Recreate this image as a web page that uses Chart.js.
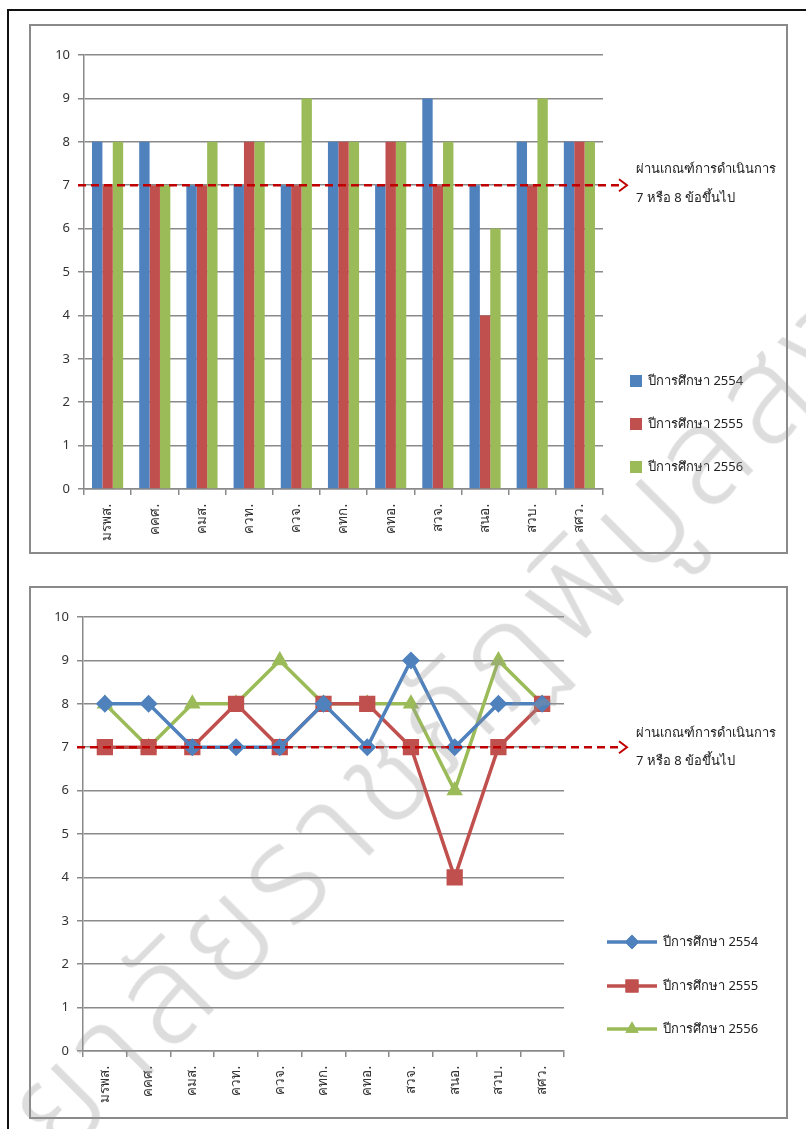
<!DOCTYPE html>
<html><head><meta charset="utf-8">
<script src="https://cdn.jsdelivr.net/npm/chart.js@4.4.1/dist/chart.umd.min.js"></script>
<style>
html,body{margin:0;padding:0;background:#fff;overflow:hidden;width:806px;height:1129px;}
#outer{position:absolute;left:7px;top:9px;width:840px;height:1160px;border:2px solid #111;box-sizing:border-box;}
.box{position:absolute;left:29px;width:759px;border:2px solid #8a8a8a;box-sizing:border-box;background:#fff;}
#b1{top:24px;height:530px;}
#b2{top:586px;height:533px;}
canvas{position:absolute;left:0;top:0;}
#wm{position:absolute;left:62px;top:1165px;white-space:nowrap;font-family:'Noto Sans Thai','Noto Sans','DejaVu Sans',sans-serif;font-weight:300;font-size:135px;line-height:1;color:rgba(150,150,150,0.32);transform-origin:0 0;transform:rotate(-45deg) translate(0,-110px);pointer-events:none;letter-spacing:9px;}
</style></head>
<body>
<div id="outer"></div>
<div class="box" id="b1"><canvas id="c1" width="755" height="526"></canvas></div>
<div class="box" id="b2"><canvas id="c2" width="755" height="529"></canvas></div>
<div id="wm">ยาลัยราชภัฏพิบูลสงคราม</div>
<script>
const categories = ["มรพส.","คคศ.","คมส.","ควท.","ควจ.","คทก.","คทอ.","สวจ.","สนอ.","สวบ.","สศว."];
const seriesNames = ["ปีการศึกษา 2554","ปีการศึกษา 2555","ปีการศึกษา 2556"];
const y2554 = [8,8,7,7,7,8,7,9,7,8,8];
const y2555 = [7,7,7,8,7,8,8,7,4,7,8];
const y2556 = [8,7,8,8,9,8,8,8,6,9,8];
const threshold = 7;
const noteLines = ["ผ่านเกณฑ์การดำเนินการ","7 หรือ 8 ข้อขึ้นไป"];
const yTicks = [0,1,2,3,4,5,6,7,8,9,10];

const colors = ["#4F81BD","#C0504D","#9BBB59"];
const FONT = "Tahoma, 'Noto Sans', 'DejaVu Sans', sans-serif";
Chart.defaults.font.family = FONT;
Chart.defaults.color = "#333";

function thresholdPlugin(lineEnd, textX, dy1, dy2){
  return {
    id:'thr',
    afterDatasetsDraw(chart){
      const ctx = chart.ctx, y = chart.scales.y.getPixelForValue(threshold);
      const x0 = chart.scales.y.left + chart.scales.y.width - 6;
      ctx.save();
      ctx.strokeStyle = "#C00000"; ctx.lineWidth = 2.5; ctx.setLineDash([8,5]);
      ctx.beginPath(); ctx.moveTo(x0,y); ctx.lineTo(lineEnd,y); ctx.stroke();
      ctx.setLineDash([]); ctx.lineWidth = 2;
      ctx.beginPath(); ctx.moveTo(lineEnd-4,y-6); ctx.lineTo(lineEnd+4,y); ctx.lineTo(lineEnd-4,y+6); ctx.stroke();
      ctx.fillStyle = "#222"; ctx.font = "13px " + FONT; ctx.textBaseline = "middle"; ctx.textAlign="left";
      ctx.fillText(noteLines[0], textX, y+dy1);
      ctx.fillText(noteLines[1], textX, y+dy2);
      ctx.restore();
    }
  };
}
function legendPlugin(kind, markX, textX, rows){
  return {
    id:'lg',
    afterDraw(chart){
      const ctx = chart.ctx;
      ctx.save();
      chart.data.datasets.forEach((ds,i)=>{
        const y = rows[i];
        if(kind==='bar'){
          ctx.fillStyle = ds.backgroundColor; ctx.fillRect(markX, y-6, 12, 12);
        } else {
          ctx.strokeStyle = ds.borderColor; ctx.lineWidth = 3.5;
          ctx.beginPath(); ctx.moveTo(markX-25,y); ctx.lineTo(markX+25,y); ctx.stroke();
          ctx.fillStyle = ds.borderColor;
          ctx.beginPath();
          Chart.helpers.drawPoint(ctx,{pointStyle:ds.pointStyle,radius:ds.pointRadius*0.8,borderWidth:0,rotation:0},markX,y);
          ctx.fill();
        }
        ctx.fillStyle = "#222"; ctx.font = "13px " + FONT; ctx.textBaseline="middle"; ctx.textAlign="left";
        ctx.fillText(ds.label, textX, y);
      });
      ctx.restore();
    }
  };
}
function scales(yW, xH){
  return {
    x:{offset:true,
      grid:{offset:true,drawOnChartArea:false,drawTicks:true,tickLength:6,color:"#8a8a8a",lineWidth:1.5},
      border:{color:"#8a8a8a",width:1.5},
      ticks:{minRotation:90,maxRotation:90,autoSkip:false,font:{size:13.5},color:"#333",padding:9},
      afterFit(s){s.height = xH;}
    },
    y:{min:0,max:10,
      afterBuildTicks(s){s.ticks = yTicks.map(v=>({value:v}));},
      grid:{color:"#8a8a8a",lineWidth:1.5,tickLength:6,drawTicks:true},
      border:{color:"#8a8a8a",width:1.5},
      ticks:{font:{size:13},color:"#333",padding:8},
      afterFit(s){s.width = yW;}
    }
  };
}
const all = [y2554,y2555,y2556];
new Chart(document.getElementById('c1'),{
  type:'bar',
  data:{labels:categories,datasets:all.map((d,i)=>({label:seriesNames[i],data:d,backgroundColor:colors[i],borderWidth:0,barPercentage:1,categoryPercentage:0.66}))},
  options:{responsive:false,animation:false,devicePixelRatio:1,
    layout:{padding:{left:0,right:183,top:29,bottom:0}},
    plugins:{legend:{display:false},tooltip:{enabled:false}},
    scales:scales(53,63)},
  plugins:[thresholdPlugin(592,605,-16,13),legendPlugin('bar',599,617,[355,398,441])]
});
const pstyles = ['rectRot','rect','triangle'];
const pr = [9,11.5,9.5];
new Chart(document.getElementById('c2'),{
  type:'line',
  data:{labels:categories,datasets:all.map((d,i)=>({label:seriesNames[i],data:d,borderColor:colors[i],backgroundColor:colors[i],borderWidth:3.5,pointStyle:pstyles[i],pointRadius:pr[i],pointBorderWidth:0,tension:0}))},
  options:{responsive:false,animation:false,devicePixelRatio:1,
    layout:{padding:{left:0,right:222,top:29,bottom:0}},
    plugins:{legend:{display:false},tooltip:{enabled:false}},
    scales:scales(52,66)},
  plugins:[thresholdPlugin(592,605,-14,14),legendPlugin('line',601,632,[354,398,441])]
});
</script>
</body></html>
